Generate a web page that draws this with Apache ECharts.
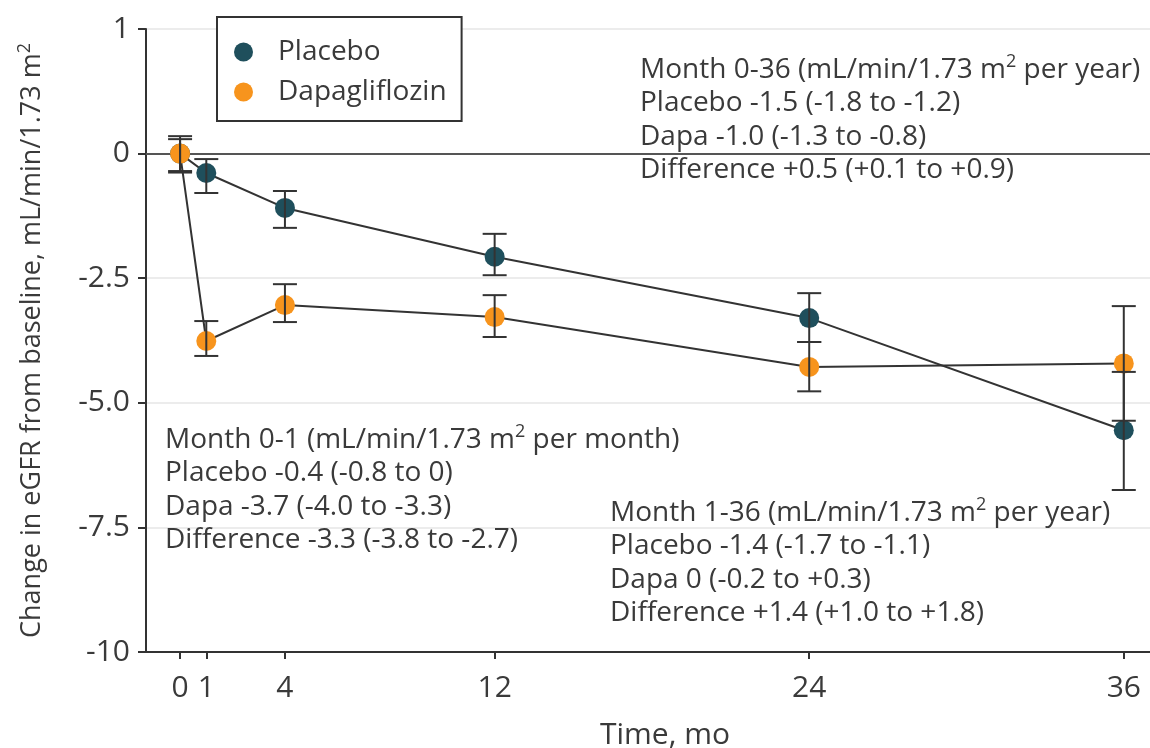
<!DOCTYPE html>
<html>
<head>
<meta charset="utf-8">
<title>Change in eGFR from baseline</title>
<script src="https://cdn.jsdelivr.net/npm/echarts@6/dist/echarts.min.js"></script>
<style>
  html, body { margin: 0; padding: 0; background: #ffffff; }
  #chart { width: 1150px; height: 748px; }
</style>
</head>
<body>
<div id="chart"></div>
<script>
// Visit months
const months = [0, 1, 4, 12, 24, 36];

// Mean change in eGFR (mL/min/1.73 m²) with 95% CI bounds
const placeboMean = [0, -0.39, -1.09, -2.07, -3.30, -5.55];
const placeboLow  = [-0.35, -0.79, -1.49, -2.44, -3.78, -6.75];
const placeboHigh = [0.35, -0.11, -0.75, -1.61, -2.80, -4.38];

const dapaMean = [0, -3.76, -3.04, -3.28, -4.28, -4.21];
const dapaLow  = [-0.38, -4.06, -3.38, -3.68, -4.77, -5.36];
const dapaHigh = [0.29, -3.36, -2.62, -2.84, -3.78, -3.06];

// Y-axis tick values and their printed labels
const yTickValues = [2.5, 0, -2.5, -5, -7.5, -10];
const yTickLabels = ['1', '0', '-2.5', '-5.0', '-7.5', '-10'];

// Slope summaries
const slope036 = [
  '{t|Month 0-36 (mL/min/1.73 m}{s|2}{t| per year)}',
  '{t|Placebo -1.5 (-1.8 to -1.2)}',
  '{t|Dapa -1.0 (-1.3 to -0.8)}',
  '{t|Difference +0.5 (+0.1 to +0.9)}'
];
const slope01 = [
  '{t|Month 0-1 (mL/min/1.73 m}{s|2}{t| per month)}',
  '{t|Placebo -0.4 (-0.8 to 0)}',
  '{t|Dapa -3.7 (-4.0 to -3.3)}',
  '{t|Difference -3.3 (-3.8 to -2.7)}'
];
const slope136 = [
  '{t|Month 1-36 (mL/min/1.73 m}{s|2}{t| per year)}',
  '{t|Placebo -1.4 (-1.7 to -1.1)}',
  '{t|Dapa 0 (-0.2 to +0.3)}',
  '{t|Difference +1.4 (+1.0 to +1.8)}'
];

const FONT = 'Open Sans';
const FS = 28;
const TICK_FS = 30;
const TEXT = '#3a3a3a';
const AXIS = '#333333';
const PLACEBO_COLOR = '#1f4f5c';
const DAPA_COLOR = '#f7941d';

const richStyle = {
  t: { fontFamily: FONT, fontSize: FS, color: TEXT, lineHeight: 33.5 },
  s: { fontFamily: FONT, fontSize: 18, color: TEXT, lineHeight: 24, verticalAlign: 'top' }
};

function noteBlock(lines, x, y) {
  return {
    type: 'text', left: x, top: y, z: 50,
    style: {
      text: lines.join('\n'),
      rich: richStyle,
      fontFamily: FONT, fontSize: FS, fill: TEXT
    }
  };
}

function errorBars(name, lows, highs) {
  return {
    type: 'custom',
    name: name,
    z: 6,
    silent: true,
    encode: { x: 0, y: [1, 2] },
    data: months.map((m, i) => [m, lows[i], highs[i]]),
    renderItem: function (params, api) {
      const x = api.value(0);
      const lo = api.coord([x, api.value(1)]);
      const hi = api.coord([x, api.value(2)]);
      const hw = 12;
      const st = { stroke: AXIS, lineWidth: 2 };
      return {
        type: 'group',
        children: [
          { type: 'line', shape: { x1: lo[0], y1: lo[1], x2: hi[0], y2: hi[1] }, style: st },
          { type: 'line', shape: { x1: lo[0] - hw, y1: lo[1], x2: lo[0] + hw, y2: lo[1] }, style: st },
          { type: 'line', shape: { x1: hi[0] - hw, y1: hi[1], x2: hi[0] + hw, y2: hi[1] }, style: st }
        ]
      };
    }
  };
}

function meanLine(name, values, color) {
  return {
    type: 'line',
    name: name,
    z: 4,
    data: months.map((m, i) => [m, values[i]]),
    symbol: 'circle',
    symbolSize: 20,
    showSymbol: true,
    itemStyle: { color: color, opacity: 1 },
    lineStyle: { color: AXIS, width: 2 },
    emphasis: { disabled: true },
    animation: false
  };
}

const chart = echarts.init(document.getElementById('chart'));

chart.setOption({
  animation: false,
  backgroundColor: '#ffffff',
  grid: { left: 146, right: 0, top: 29, bottom: 96, containLabel: false, outerBoundsMode: 'none' },
  legend: {
    data: ['Placebo', 'Dapagliflozin'],
    orient: 'vertical',
    left: 217,
    top: 17,
    borderColor: AXIS,
    borderWidth: 2,
    padding: [21, 15, 15, 17],
    itemGap: 12,
    icon: 'circle',
    itemWidth: 19,
    itemHeight: 19,
    backgroundColor: '#ffffff',
    textStyle: { fontFamily: FONT, fontSize: FS, color: TEXT, lineHeight: 26, padding: [0, 0, 0, 20] },
    z: 40
  },
  xAxis: {
    type: 'value',
    min: -1.3,
    max: 37,
    name: 'Time, mo',
    nameLocation: 'middle',
    nameGap: 68,
    nameTextStyle: { fontFamily: FONT, fontSize: 30, color: TEXT, padding: [0, 0, 0, 34] },
    axisLine: { show: true, onZero: false, lineStyle: { color: AXIS, width: 2 } },
    axisTick: { show: true, customValues: months, length: 7, lineStyle: { color: AXIS, width: 2 } },
    axisLabel: { customValues: months, fontFamily: FONT, fontSize: TICK_FS, color: TEXT, margin: 21 },
    splitLine: { show: false }
  },
  yAxis: {
    type: 'value',
    min: -10,
    max: 2.5,
    interval: 2.5,
    name: '{t|Change in eGFR from baseline, mL/min/1.73 m}{s|2}',
    nameLocation: 'middle',
    nameGap: 98,
    nameTextStyle: {
      rich: {
        t: { fontFamily: FONT, fontSize: 27, color: TEXT, lineHeight: 32 },
        s: { fontFamily: FONT, fontSize: 18, color: TEXT, lineHeight: 22, verticalAlign: 'top' }
      }
    },
    axisLine: { show: true, onZero: false, lineStyle: { color: AXIS, width: 2 } },
    axisTick: { show: true, length: 8, lineStyle: { color: AXIS, width: 2 } },
    axisLabel: {
      fontFamily: FONT, fontSize: TICK_FS, color: TEXT, margin: 16,
      formatter: function (v) {
        const i = yTickValues.findIndex(t => Math.abs(t - v) < 1e-9);
        return i >= 0 ? yTickLabels[i] : '';
      }
    },
    splitLine: { show: true, lineStyle: { color: '#e6e6e6', width: 1.5 } }
  },
  graphic: [
    noteBlock(slope036, 640, 53),
    noteBlock(slope01, 165, 423),
    noteBlock(slope136, 610, 496)
  ],
  series: [
    Object.assign(meanLine('Placebo', placeboMean, PLACEBO_COLOR), {
      markLine: {
        silent: true,
        symbol: 'none',
        label: { show: false },
        lineStyle: { color: '#555555', width: 2, type: 'solid' },
        data: [{ yAxis: 0 }],
        z: 2
      }
    }),
    meanLine('Dapagliflozin', dapaMean, DAPA_COLOR),
    errorBars('Placebo 95% CI', placeboLow, placeboHigh),
    errorBars('Dapagliflozin 95% CI', dapaLow, dapaHigh)
  ]
});
</script>
</body>
</html>
